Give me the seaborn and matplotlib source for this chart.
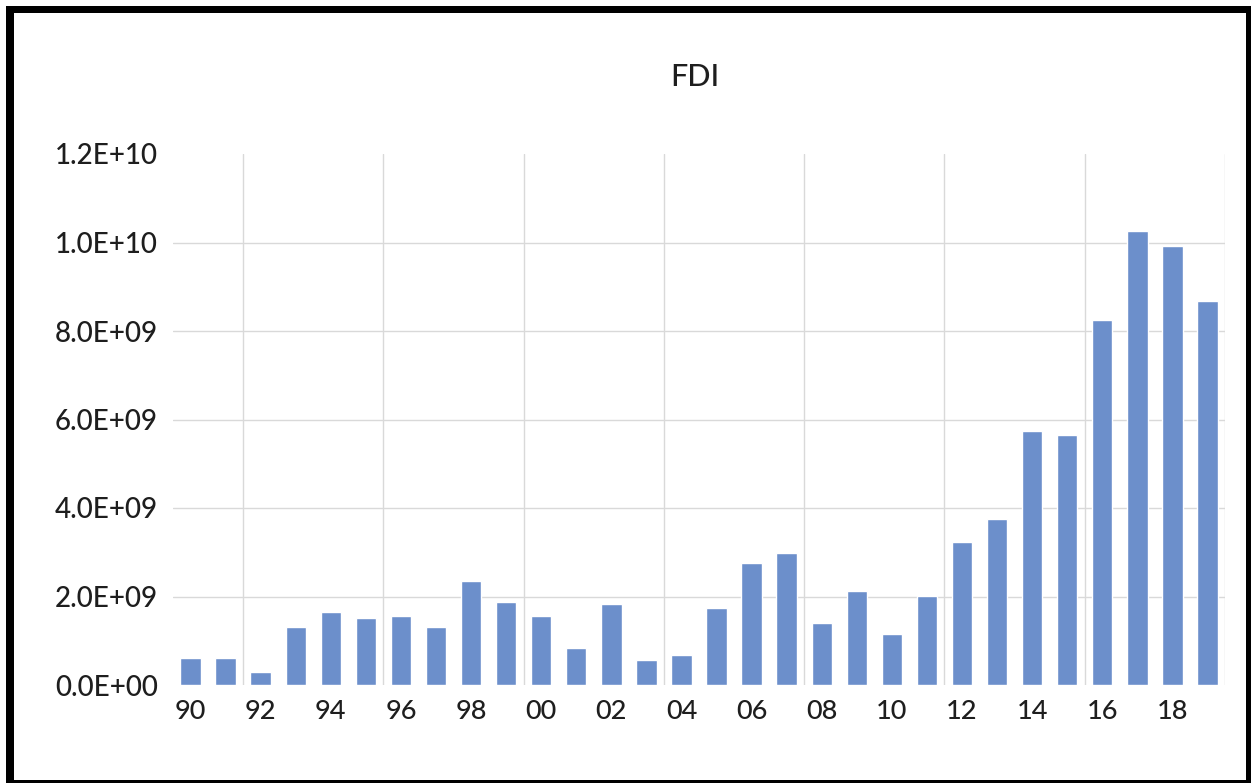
import matplotlib
matplotlib.use("Agg")
import matplotlib.pyplot as plt
from matplotlib.patches import Rectangle
from matplotlib.ticker import FuncFormatter, FixedLocator
import seaborn as sns
import pandas as pd

# Foreign direct investment, 1990-2019 (USD)
years = [str(y)[-2:] for y in range(1990, 2020)]
fdi = [0.60e9, 0.62e9, 0.30e9, 1.30e9, 1.66e9, 1.52e9, 1.56e9, 1.30e9, 2.36e9, 1.87e9,
       1.57e9, 0.83e9, 1.82e9, 0.57e9, 0.68e9, 1.73e9, 2.76e9, 2.98e9, 1.41e9, 2.13e9,
       1.15e9, 2.02e9, 3.24e9, 3.75e9, 5.74e9, 5.65e9, 8.25e9, 10.26e9, 9.93e9, 8.68e9]
y_ticks = [0, 2e9, 4e9, 6e9, 8e9, 10e9, 12e9]
title = "FDI"

sns.set_theme(style="white")
plt.rcParams["font.family"] = ["Lato", "DejaVu Sans"]

W, H = 1251, 783
fig = plt.figure(figsize=(W / 100, H / 100), dpi=100)
ax = fig.add_axes([173 / W, 1 - 685 / H, (1225 - 173) / W, (685 - 154) / H])

df = pd.DataFrame({"year": years, "fdi": fdi})
sns.barplot(data=df, x="year", y="fdi", order=years, color="#6C8FCB",
            saturation=1, width=0.58, ax=ax)

ax.set_xlim(-0.5, len(years) - 0.5)
ax.set_ylim(0, 12e9)
ax.set_yticks(y_ticks)
ax.yaxis.set_major_formatter(FuncFormatter(lambda v, _: f"{v:.1E}"))
ax.set_xticks(range(0, len(years), 2))
ax.set_xticklabels(years[::2])

# horizontal grid (none at the bottom and top ticks), vertical grid every four categories
ax.grid(axis="y", color="#d9d9d9", linewidth=1.0)
ax.set_axisbelow(True)
ax.xaxis.set_minor_locator(FixedLocator([1.5 + 4 * k for k in range(8)]))
ax.grid(axis="x", which="minor", color="#d9d9d9", linewidth=1.0)
ax.get_ygridlines()[-1].set_visible(False)
ax.get_ygridlines()[0].set_visible(False)

text_color = "#1e1e1e"
ax.tick_params(axis="x", which="both", length=0, pad=10, labelsize=19.5, labelcolor=text_color)
ax.tick_params(axis="y", length=0, pad=11, labelsize=20, labelcolor=text_color)
for lbl in ax.get_xticklabels() + ax.get_yticklabels():
    lbl.set_fontweight("medium")
ax.set_xlabel("")
ax.set_ylabel("")
for s in ax.spines.values():
    s.set_visible(False)

fig.text(695 / W, 1 - 77 / H, title, ha="center", va="center",
         fontsize=22, color=text_color, fontweight="medium")

# outer black frame
for (x0, y0, x1, y1) in [(6, 6, 14, 783), (6, 6, 1251, 13),
                         (1246, 6, 1251, 783), (6, 780, 1251, 783)]:
    fig.add_artist(Rectangle((x0 / W, 1 - y1 / H), (x1 - x0) / W, (y1 - y0) / H,
                             transform=fig.transFigure, color="black", lw=0))

fig.savefig("out.png", dpi=100, facecolor="white")
